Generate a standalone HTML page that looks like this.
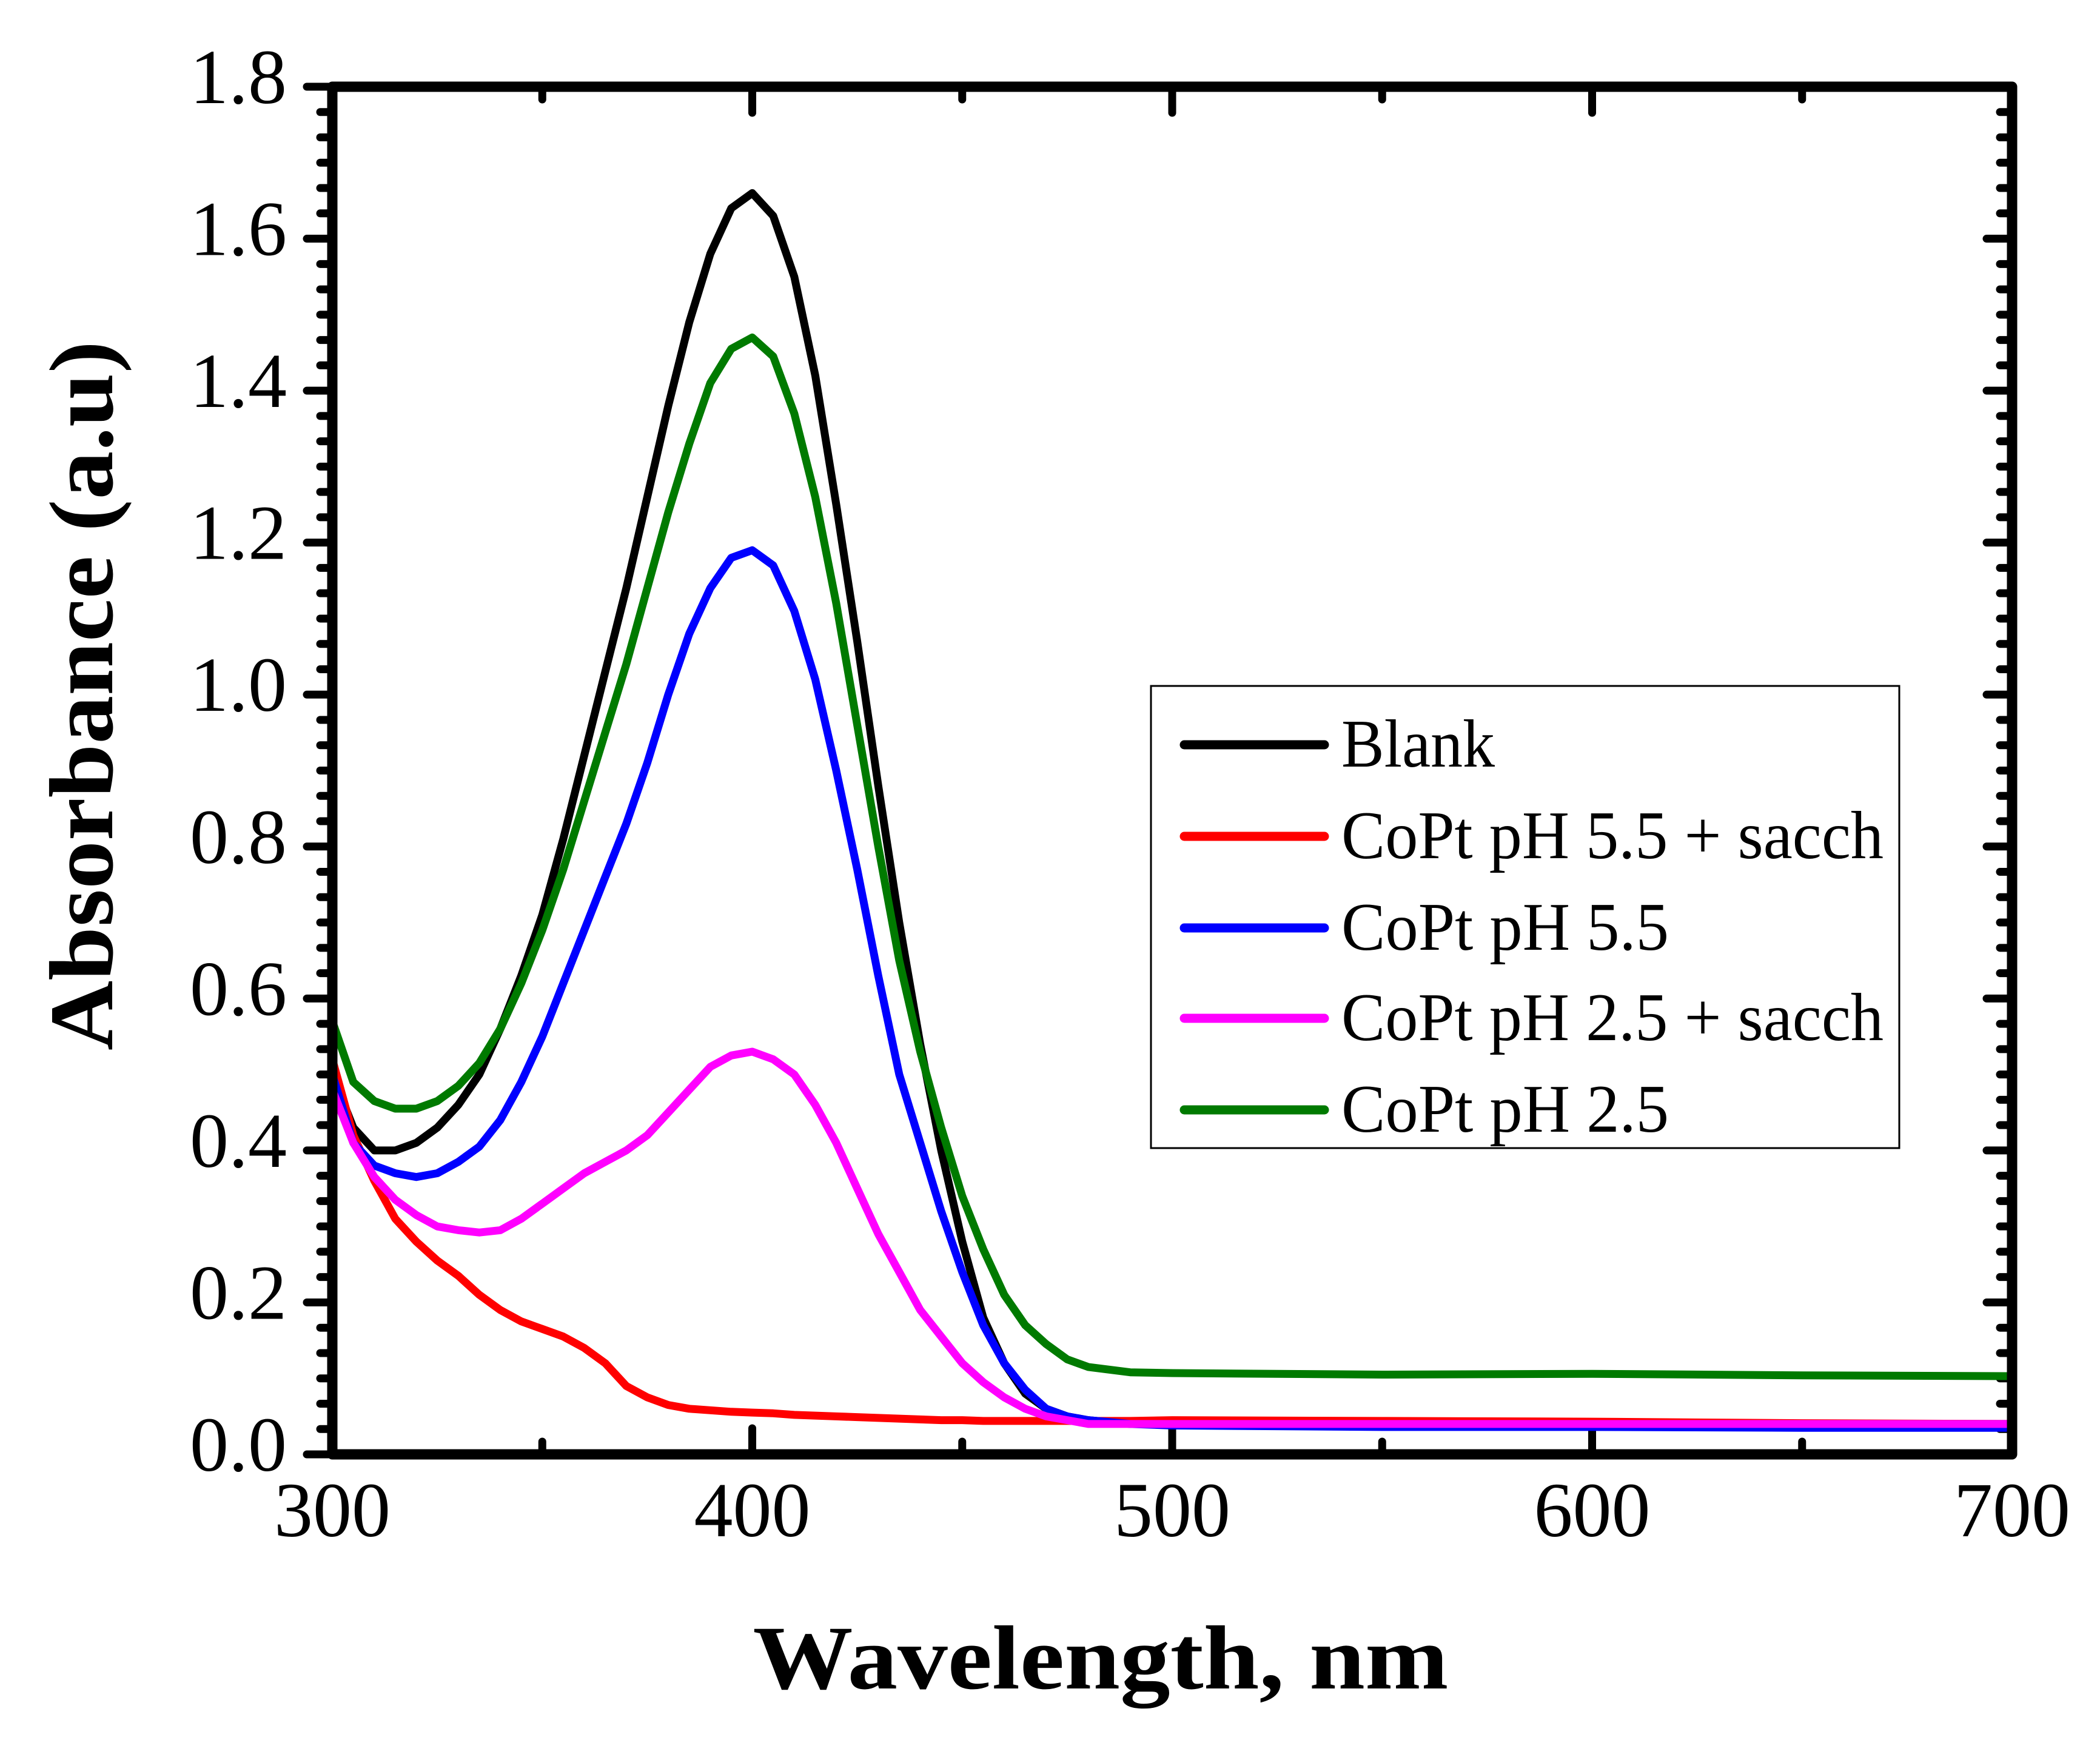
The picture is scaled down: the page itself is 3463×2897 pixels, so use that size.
<!DOCTYPE html>
<html><head><meta charset="utf-8"><style>html,body{margin:0;padding:0;background:#fff}svg{display:block}</style></head>
<body>
<svg id="chart" xmlns="http://www.w3.org/2000/svg" width="3463" height="2897" viewBox="0 0 3463 2897" font-family="'Liberation Serif', serif">
<g id="ticks"></g>
<g id="series"></g>
<rect x="548" y="143" width="2770" height="2255" fill="none" stroke="#000" stroke-width="17" stroke-linejoin="round"/>
<g id="labels" font-size="128"></g>
<text x="1815" y="2784" font-size="150" font-weight="bold" text-anchor="middle" textLength="1147" lengthAdjust="spacingAndGlyphs">Wavelength, nm</text>
<text transform="translate(185,1147) rotate(-90)" font-size="150" font-weight="bold" text-anchor="middle" textLength="1170" lengthAdjust="spacingAndGlyphs">Absorbance (a.u)</text>
<g id="legend">
<rect x="1898" y="1131" width="1234" height="762" fill="#fff" stroke="#000" stroke-width="3"/>
</g>
</svg>
<script>
const xTicks = [300,400,500,600,700];
const yTicks = [0.0,0.2,0.4,0.6,0.8,1.0,1.2,1.4,1.6,1.8];
const seriesNames = ["Blank","CoPt pH 5.5 + sacch","CoPt pH 5.5","CoPt pH 2.5 + sacch","CoPt pH 2.5"];
const seriesColors = ["#000000","#ff0000","#0000ff","#ff00ff","#007a00"];
const wlA = [300,305,310,315,320,325,330,335,340,345,350,355,360,365,370,375,380,385,390,395,400,405,410,415,420,425,430,435,440,445,450,455,460,465,470,475,480,490,500,550,600,650,700];
const blankVals = [0.50,0.43,0.40,0.40,0.41,0.43,0.46,0.50,0.56,0.63,0.71,0.81,0.92,1.03,1.14,1.26,1.38,1.49,1.58,1.64,1.66,1.63,1.55,1.42,1.25,1.07,0.88,0.70,0.54,0.40,0.28,0.18,0.12,0.08,0.06,0.05,0.045,0.04,0.04,0.04,0.04,0.04,0.04];
const sacch55Vals = [0.52,0.42,0.36,0.31,0.28,0.255,0.235,0.21,0.19,0.175,0.165,0.155,0.14,0.12,0.09,0.075,0.065,0.06,0.058,0.056,0.055,0.054,0.052,0.051,0.05,0.049,0.048,0.047,0.046,0.045,0.045,0.044,0.044,0.044,0.044,0.044,0.044,0.044,0.045,0.044,0.043,0.041,0.04];
const ph55Vals = [0.50,0.41,0.38,0.37,0.365,0.37,0.385,0.405,0.44,0.49,0.55,0.62,0.69,0.76,0.83,0.91,1.00,1.08,1.14,1.18,1.19,1.17,1.11,1.02,0.90,0.77,0.63,0.50,0.41,0.32,0.24,0.17,0.12,0.085,0.06,0.05,0.045,0.04,0.038,0.036,0.036,0.035,0.035];
const sacch25Vals = [0.48,0.41,0.365,0.335,0.315,0.30,0.295,0.292,0.295,0.31,0.33,0.35,0.37,0.385,0.40,0.42,0.45,0.48,0.51,0.525,0.53,0.52,0.50,0.46,0.41,0.35,0.29,0.24,0.19,0.155,0.12,0.095,0.075,0.06,0.05,0.045,0.04,0.04,0.04,0.04,0.04,0.04,0.04];
const ph25Vals = [0.57,0.49,0.465,0.455,0.455,0.465,0.485,0.515,0.56,0.62,0.69,0.77,0.86,0.95,1.04,1.14,1.24,1.33,1.41,1.455,1.47,1.445,1.37,1.26,1.12,0.96,0.80,0.65,0.53,0.43,0.34,0.27,0.21,0.17,0.145,0.125,0.115,0.108,0.107,0.105,0.106,0.104,0.103];
const allVals = [blankVals,sacch55Vals,ph55Vals,sacch25Vals,ph25Vals];

const NS="http://www.w3.org/2000/svg";
const X0=548,X1=3318,Y0=2398,Y1=143;
function sx(v){return X0+(v-300)/400*(X1-X0);}
function sy(v){return Y0-v/1.8*(Y0-Y1);}
function mk(tag,attrs,parent){const e=document.createElementNS(NS,tag);for(const k in attrs)e.setAttribute(k,attrs[k]);parent.appendChild(e);return e;}
const tg=document.getElementById('ticks'), lg=document.getElementById('labels');
for(let v=300;v<=700;v+=50){
  const major=(v%100===0), L=major?43:21, x=sx(v);
  const t1=mk('line',{x1:x,y1:Y0,x2:x,y2:Y0-L,stroke:'#000','stroke-width':13,'stroke-linecap':'round'},tg);
  
  
  const t2=mk('line',{x1:x,y1:Y1,x2:x,y2:Y1+L,stroke:'#000','stroke-width':13,'stroke-linecap':'round'},tg);
  
  
}
xTicks.forEach(v=>{
  const t=mk('text',{x:sx(v),y:2533,'text-anchor':'middle'},lg);
  t.textContent=String(v);
  
  
});
for(let i=0;i<=54;i++){
  const v=i/30, major=(i%6===0), L=major?42:20, y=sy(v);
  const t1=mk('line',{x1:X0,y1:y,x2:X0-L,y2:y,stroke:'#000','stroke-width':13,'stroke-linecap':'round'},tg);
  
  
  const t2=mk('line',{x1:X1,y1:y,x2:X1-L,y2:y,stroke:'#000','stroke-width':13,'stroke-linecap':'round'},tg);
  
  
}
yTicks.forEach(v=>{
  const t=mk('text',{x:473,y:sy(v)+27,'text-anchor':'end'},lg);
  t.textContent=v.toFixed(1);
  
  
});
const sg=document.getElementById('series');
allVals.forEach((vals,i)=>{
  const d=vals.map((v,j)=>(j?'L':'M')+sx(wlA[j]).toFixed(1)+','+sy(v).toFixed(1)).join(' ');
  const p=mk('path',{d:d,fill:'none',stroke:seriesColors[i],'stroke-width':13,'stroke-linejoin':'round','stroke-linecap':'round'},sg);
  
  
});
const leg=document.getElementById('legend');
const legY=[1228,1379,1530,1679,1830];
seriesNames.forEach((n,i)=>{
  const l=mk('line',{x1:1953,y1:legY[i],x2:2184,y2:legY[i],stroke:seriesColors[i],'stroke-width':15,'stroke-linecap':'round'},leg);
  
  
  const t=mk('text',{x:2212,y:legY[i]+36,'font-size':112},leg);
  t.textContent=n;
  const widths=[253,894,540,894,540];
  t.setAttribute('textLength',widths[i]);
  t.setAttribute('lengthAdjust','spacingAndGlyphs');
  
  
});
</script>
</body></html>
